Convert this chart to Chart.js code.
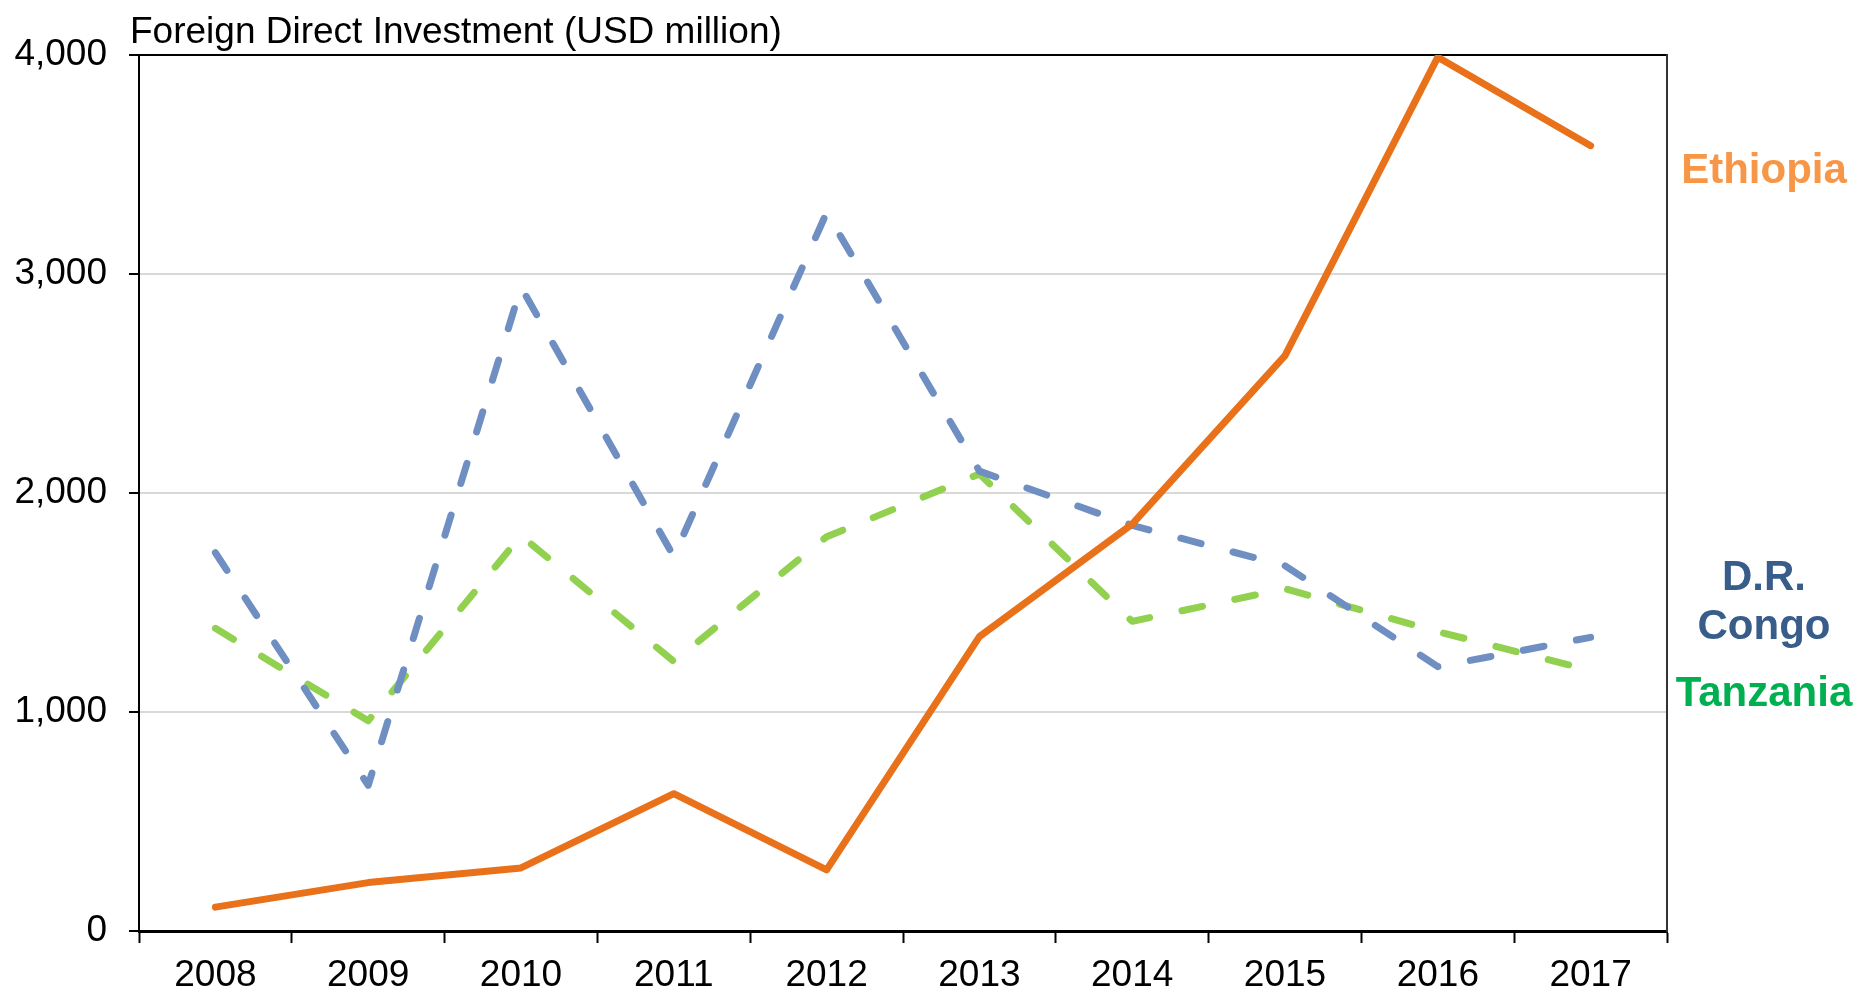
<!DOCTYPE html>
<html>

<head>
    <title>Foreign Direct Investment</title>
    <script src="https://cdn.jsdelivr.net/npm/chart.js@4.4.1/dist/chart.umd.min.js"></script>
    <style>
        body {
            margin: 0;
            background: #fff;
            font-family: "Liberation Sans", Arial, sans-serif;
        }
    </style>
</head>

<body>
    <canvas id="fdi-canvas" width="1860" height="993"></canvas>
    <script>
        // Data (USD million)
        var years = ["2008", "2009", "2010", "2011", "2012", "2013", "2014", "2015", "2016", "2017"];
        var ethiopiaData = [109, 221, 288, 627, 279, 1344, 1858, 2627, 3990, 3586];
        var congoData = [1727, 665, 2940, 1710, 3280, 2100, 1852, 1668, 1207, 1341];
        var tanzaniaData = [1382, 960, 1805, 1231, 1800, 2087, 1414, 1563, 1367, 1190];
        var yTicks = [0, 1000, 2000, 3000, 4000];

        var chartTitle = "Foreign Direct Investment (USD million)";
        // right side labels, anchored at a value on the y scale
        var seriesLabels = [
            { text: "Ethiopia", value: 3470, color: "#F79646" },
            { text: "D.R.", value: 1612, color: "#385D8A" },
            { text: "Congo", value: 1385, color: "#385D8A" },
            { text: "Tanzania", value: 1078, color: "#00B050" }
        ];

        var fontName = '"Liberation Sans", Arial, sans-serif';

        // Draws the title above the plot and the names on the right
        var textPlugin = {
            id: "textPlugin",
            afterDraw: function(chart) {
                var ctx = chart.ctx;
                var area = chart.chartArea;
                var y = chart.scales.y;
                ctx.save();
                ctx.fillStyle = "#000";
                ctx.font = "37px " + fontName;
                ctx.textAlign = "left";
                ctx.textBaseline = "alphabetic";
                ctx.fillText(chartTitle, area.left - 9, area.top - 12);

                ctx.font = "bold 42px " + fontName;
                ctx.textAlign = "center";
                ctx.textBaseline = "middle";
                seriesLabels.forEach(function(lbl) {
                    ctx.fillStyle = lbl.color;
                    ctx.fillText(lbl.text, area.right + 97, y.getPixelForValue(lbl.value));
                });
                ctx.restore();
            }
        };

        var ctx = document.getElementById("fdi-canvas").getContext("2d");
        var fdiChart = new Chart(ctx, {
            type: "line",
            data: {
                labels: years,
                datasets: [{
                    label: "Ethiopia",
                    data: ethiopiaData,
                    borderColor: "#E8711A",
                    borderWidth: 7,
                    borderJoinStyle: "round",
                    borderCapStyle: "round",
                    pointRadius: 0,
                    tension: 0
                }, {
                    label: "D.R. Congo",
                    data: congoData,
                    borderColor: "#6F8FC2",
                    borderWidth: 7,
                    borderDash: [21, 33],
                    borderCapStyle: "round",
                    borderJoinStyle: "round",
                    pointRadius: 0,
                    tension: 0
                }, {
                    label: "Tanzania",
                    data: tanzaniaData,
                    borderColor: "#92D050",
                    borderWidth: 7,
                    borderDash: [21, 33],
                    borderCapStyle: "round",
                    borderJoinStyle: "round",
                    pointRadius: 0,
                    tension: 0
                }]
            },
            options: {
                responsive: false,
                animation: false,
                devicePixelRatio: 1,
                layout: {
                    padding: { top: 55, right: 193, left: 0, bottom: 0 }
                },
                plugins: {
                    legend: { display: false },
                    tooltip: { enabled: false }
                },
                scales: {
                    x: {
                        offset: true,
                        grid: {
                            offset: true,
                            drawOnChartArea: false,
                            drawTicks: true,
                            tickLength: 12,
                            tickColor: "#000",
                            tickWidth: 2
                        },
                        border: { color: "#000", width: 3 },
                        ticks: {
                            color: "#000",
                            padding: 14,
                            maxRotation: 0,
                            font: { family: fontName, size: 37, lineHeight: 1 }
                        },
                        afterFit: function(scale) {
                            scale.height = 62;
                        }
                    },
                    y: {
                        min: 0,
                        max: 4000,
                        afterBuildTicks: function(scale) {
                            scale.ticks = yTicks.map(function(v) { return { value: v }; });
                        },
                        grid: {
                            color: function(c) {
                                return c.tick && c.tick.value === 4000 ? "#000" : "#D9D9D9";
                            },
                            lineWidth: 2,
                            tickLength: 10,
                            tickColor: "#000",
                            tickWidth: 2
                        },
                        border: { color: "#000", width: 2 },
                        ticks: {
                            color: "#000",
                            padding: 22,
                            font: { family: fontName, size: 37 },
                            callback: function(v) {
                                return v.toLocaleString("en-US");
                            }
                        },
                        afterFit: function(scale) {
                            scale.width = 139;
                        }
                    },
                    y2: {
                        position: "right",
                        min: 0,
                        max: 4000,
                        grid: { drawOnChartArea: false, drawTicks: false },
                        border: { color: "#333", width: 2 },
                        ticks: { display: false },
                        afterFit: function(scale) {
                            scale.width = 0;
                        }
                    }
                }
            },
            plugins: [textPlugin]
        });
    </script>
</body>

</html>
